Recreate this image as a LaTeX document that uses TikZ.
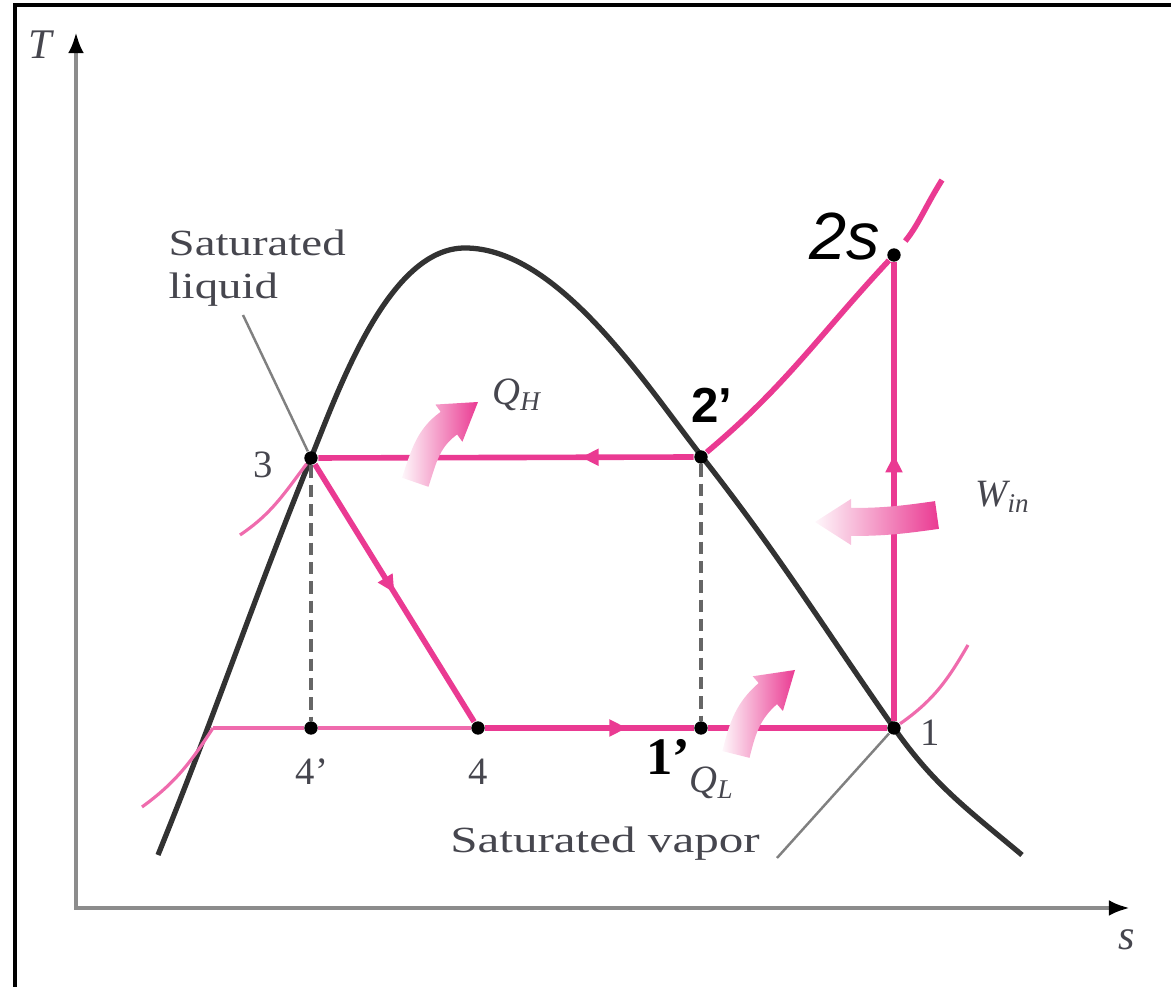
\documentclass[tikz,border=0pt]{standalone}
\usepackage{fontspec}
\usepackage{graphicx}
\setmainfont{Liberation Serif}
\setsansfont{Liberation Sans}
\usetikzlibrary{arrows.meta,positioning,calc,decorations.markings}
\definecolor{cyclepink}{RGB}{234,58,146}
\definecolor{domegray}{RGB}{50,50,50}
\definecolor{labelgray}{RGB}{70,70,78}

% wide text, as in the figure
\newcommand{\widetext}[1]{\scalebox{1.27}[1]{#1}}
% fat shaded arrow: tip, rotation, tail x, tail y, tail angle
\newcommand{\heatarrow}[5]{%
  \begin{scope}[shift={#1},rotate=#2]
    \shade[left color=cyclepink!4, right color=cyclepink]
      ($(#3,#4)+(#5+90:0.14)$) to[out=#5,in=180] (-0.36,0.14) -- (-0.36,0.23)
      -- (0,0) -- (-0.36,-0.23) -- (-0.36,-0.14)
      to[out=180,in=#5] ($(#3,#4)+(#5-90:0.14)$) -- cycle;
  \end{scope}}

\begin{document}
\begin{tikzpicture}[
    axis/.style={draw=black!45, line width=1.2pt, {Latex[color=black,length=6pt]}-{Latex[color=black,length=6pt]}},
    dome/.style={draw=domegray, line width=1.5pt},
    process/.style={cyclepink, line width=1.6pt},
    isobar/.style={draw=cyclepink!75, line width=0.9pt},
    guide/.style={draw=black!60, dash pattern=on 3.5pt off 2pt, line width=0.9pt},
    leader/.style={draw=black!50, line width=0.7pt},
    state/.style={circle, fill=black, inner sep=0pt, minimum size=3.8pt},
    midarrow/.style={postaction={decorate}, decoration={markings, mark=at position #1 with {\arrow{Triangle[length=5pt,width=4.6pt]}}}},
    numlbl/.style={text=labelgray, font=\fontsize{11}{13}\selectfont, inner sep=1pt},
    heatlbl/.style={text=labelgray, font=\itshape\fontsize{11}{13}\selectfont, inner sep=1pt},
    notelbl/.style={text=labelgray, font=\fontsize{10.5}{12.2}\selectfont, inner sep=0pt}
]
\useasboundingbox (0,0) rectangle (11.71,9.87);

% frame
\draw[black, line width=0.9pt] (0.15,0) -- (0.15,9.82) -- (11.71,9.82);

% axes
\coordinate (O) at (0.76,0.79);
\coordinate (ytip) at (0.76,9.55);
\coordinate (xtip) at (11.30,0.79);
\draw[axis] (ytip) -- (O) -- (xtip);
\node[heatlbl, font=\itshape\fontsize{12}{14}\selectfont] (taxis) at (0.40,9.42) {T};
\node[heatlbl, font=\itshape\fontsize{12}{14}\selectfont] (saxis) at (11.27,0.47) {s};

% saturation dome
\draw[dome] (1.58,1.32) to[out=68,in=248] (3.11,5.29) to[out=68,in=180,looseness=0.75] (4.65,7.39)
  to[out=0,in=128,looseness=0.75] (7.03,5.29) to[out=-52,in=125] (8.94,2.59) to[out=-55,in=140] (10.22,1.32);

% state points
\node[state] (p3) at (3.11,5.29) {};
\node[state] (p4p) at (3.11,2.59) {};
\node[state] (p4) at (4.78,2.59) {};
\node[state] (p1p) at (7.01,2.59) {};
\node[state] (p1) at (8.94,2.59) {};
\node[state] (p2p) at (7.01,5.30) {};
\node[state] (p2s) at (8.94,7.32) {};
\coordinate (liqlo) at (2.13,2.59);
\coordinate (liqend) at (1.42,1.80);
\coordinate (hiend) at (2.40,4.52);
\coordinate (vapend) at (9.68,3.42);
\coordinate (suptop) at (9.42,8.07);

% constant pressure lines outside the cycle
\draw[isobar] (liqlo) to[out=237,in=36] (liqend);
\draw[isobar] (p3) to[out=233,in=34] (hiend);
\draw[isobar] (p1) to[out=35,in=240] (vapend);
\draw[isobar] (liqlo) -- (p4p) -- (p4);

% cycle
\draw[process, midarrow=0.5] (p3) -- (p4);
\draw[process, midarrow=0.68] (p4) -- (p1p);
\draw[process] (p1p) -- (p1);
\draw[process, midarrow=0.58] (p1) -- (p2s);
\draw[process, midarrow=0.3] (p2p) -- (p3);
\draw[process, shorten <=3pt] (p2p) to[out=40,in=227] (p2s) to[out=51,in=238] (suptop);

% projections
\draw[guide] (p3) -- (p4p);
\draw[guide] (p2p) -- (p1p);

% heat and work arrows
\heatarrow{(4.78,5.85)}{36}{-0.98}{-0.28}{35}
\heatarrow{(7.95,3.17)}{41}{-1.00}{-0.25}{35}
\heatarrow{(8.15,4.65)}{180}{-1.22}{-0.07}{8}

% labels
\node[numlbl] (l3) at (2.63,5.22) {3};
\node[numlbl] (l4p) at (3.12,2.15) {4'};
\node[numlbl] (l4) at (4.78,2.15) {4};
\node[numlbl] (l1) at (9.30,2.54) {1};
\node[font=\bfseries\fontsize{15}{17}\selectfont] (l1p) at (6.68,2.30) {1'};
\node[font=\bfseries\sffamily\fontsize{14}{16}\selectfont] (l2p) at (7.12,5.82) {2'};
\node[font=\itshape\sffamily\fontsize{19}{21}\selectfont] (l2s) at (8.45,7.50) {2s};
\node[heatlbl] (lqh) at (5.17,5.92) {Q\textsubscript{H}};
\node[heatlbl] (lql) at (7.12,2.04) {Q\textsubscript{L}};
\node[heatlbl] (lwin) at (10.03,4.90) {W\textsubscript{in}};
\node[notelbl, align=left, anchor=north west] (satliq) at (1.68,7.58) {\widetext{Saturated}\\\widetext{liquid}};
\node[notelbl] (satvap) at (6.05,1.43) {\scalebox{1.33}[1]{Saturated vapor}};

% leaders
\coordinate (liqtail) at (2.43,6.72);
\coordinate (vaptail) at (7.77,1.29);
\draw[leader] (liqtail) -- (p3);
\draw[leader] (vaptail) -- (p1);

\end{tikzpicture}
\end{document}
